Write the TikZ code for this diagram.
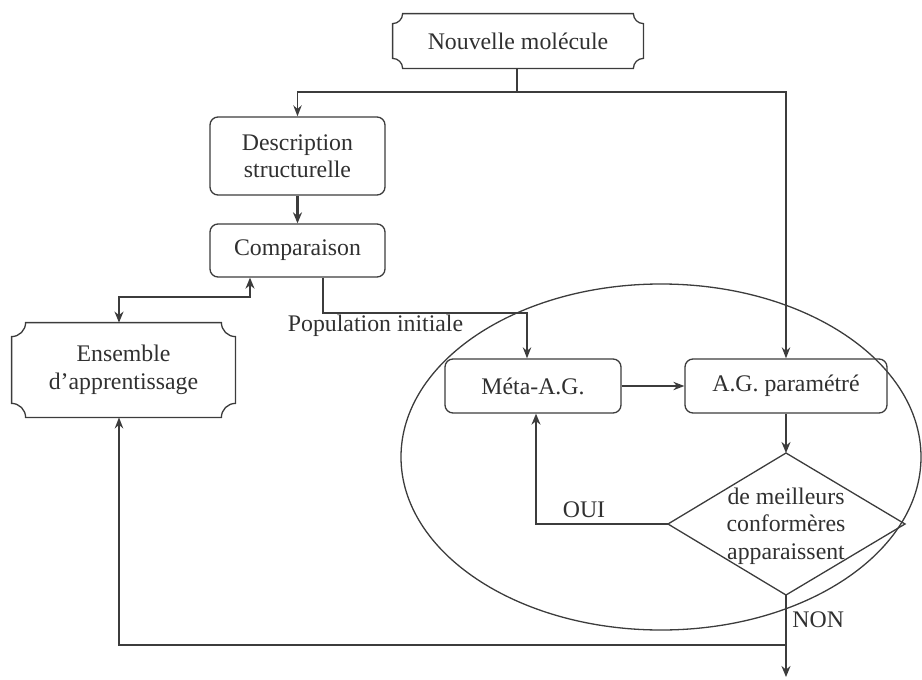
\documentclass[tikz,border=0pt]{standalone}
\usepackage{fontspec}
\setmainfont{Liberation Serif}
\usetikzlibrary{arrows.meta,calc}
\definecolor{ln}{HTML}{3C3C3C}
\definecolor{tx}{HTML}{303030}
\tikzset{
  every node/.style={text=tx, font=\fontsize{11.9}{13.7}\selectfont},
  rbox/.style={draw=ln, line width=0.65pt, rounded corners=4pt, align=center, inner sep=0pt},
  cbox/.style={align=center, inner sep=0pt},
  thin/.style={draw=ln, line width=0.65pt, -{Stealth[length=5.5pt,width=4.2pt]}},
  thick/.style={draw=ln, line width=1.4pt, -{Stealth[length=5.5pt,width=4.5pt]}},
  plain/.style={draw=ln, line width=0.65pt},
}
\newcommand{\concave}[2]{%
  \draw[ln, line width=0.65pt] ($(#1.south west)+(#2,0)$) -- ($(#1.south east)+(-#2,0)$)
    arc[start angle=180, end angle=90, radius=#2]
    -- ($(#1.north east)+(0,-#2)$)
    arc[start angle=270, end angle=180, radius=#2]
    -- ($(#1.north west)+(#2,0)$)
    arc[start angle=0, end angle=-90, radius=#2]
    -- ($(#1.south west)+(0,#2)$)
    arc[start angle=90, end angle=0, radius=#2] -- cycle;}
\begin{document}
\begin{tikzpicture}[x=0.5pt,y=0.5pt]
\useasboundingbox (0,0) rectangle (922,-680);
% nodes
\node[cbox, minimum width=125pt, minimum height=27pt] (N) at (518,-41) {Nouvelle molécule};
\concave{N}{5pt}
\node[rbox, minimum width=87.5pt, minimum height=39pt] (D) at (297.5,-156) {Description\\structurelle};
\node[rbox, minimum width=87.5pt, minimum height=26.5pt] (C) at (297.5,-250.5) {Comparaison};
\node[cbox, minimum width=111.5pt, minimum height=47pt] (E) at (123.5,-370) {Ensemble\\d’apprentissage};
\concave{E}{7pt}
\draw[plain] (661,-457) ellipse [x radius=130pt, y radius=86.5pt];
\node[rbox, minimum width=88pt, minimum height=27pt] (M) at (533,-386) {Méta-A.G.};
\node[rbox, minimum width=101pt, minimum height=27pt] (A) at (786,-386) {A.G. paramétré};
% diamond
\coordinate (dt) at (786,-453);
\coordinate (db) at (786,-595);
\coordinate (dl) at (668,-524);
\coordinate (dr) at (905,-524);
\draw[plain] (dt) -- (dr) -- (db) -- (dl) -- cycle;
\node[cbox] (Q) at (786,-526) {de meilleurs\\conformères\\apparaissent};
% labels
\node[anchor=center] (pop) at (375.5,-326) {Population initiale};
\node (oui) at (584,-510) {OUI};
\node[anchor=west, inner sep=0pt] (non) at (792,-620) {NON};
% connectors
\coordinate (j1) at (517,-92);
\draw[plain] (N.south -| j1) -- (j1);
\draw[thin] (j1) -| (D.north);
\draw[thin] (j1) -| (A.north);
\draw[thick] (D.south) -- (C.north);
\coordinate (k1) at (250,-297);
\coordinate (k2) at (119,-297);
\draw[thick, {Stealth[length=5.5pt,width=4.5pt]}-{Stealth[length=5.5pt,width=4.5pt]}] (C.south -| k1) -- (k1) -- (k2) -- (E.north -| k2);
\coordinate (p1) at (323,-313);
\coordinate (p2) at (527,-313);
\draw[thin] (C.south -| p1) -- (p1) -- (p2) -- (M.north -| p2);
\draw[thin] (M.east) -- (A.west);
\draw[thick] (A.south) -- (dt);
\coordinate (o1) at (536,-524);
\draw[thick] (dl) -- (o1) -- (M.south -| o1);
\coordinate (n2) at (786,-677);
\draw[thick] (db) -- (n2);
\coordinate (b1) at (786,-645);
\coordinate (b2) at (119,-645);
\draw[draw=ln, line width=0.9pt, -{Stealth[length=5.5pt,width=4.2pt]}] (b1) -- (b2) -- (E.south -| b2);
\end{tikzpicture}
\end{document}
